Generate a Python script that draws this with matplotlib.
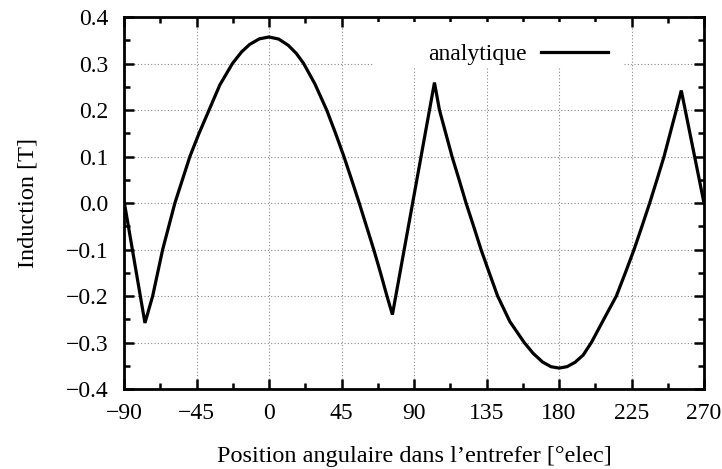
import matplotlib
matplotlib.use("Agg")
import matplotlib.pyplot as plt
from matplotlib.ticker import MultipleLocator, FuncFormatter
from matplotlib.patches import Rectangle

plt.rcParams['font.family'] = ['Liberation Serif', 'DejaVu Serif']

angle = [-90, -77, -72.2, -66, -58.4, -49.1, -43.4, -37.2, -30.5, -22.7, -17, -12, -6,
         0, 6, 12, 17, 21.5, 28.5, 35.8, 41.3, 46.5, 51.3, 56, 60.5, 65, 69.2, 73.2,
         76.6, 102.7, 105.8, 109.7, 113.6, 118, 122.3, 127, 131.6, 136.7, 141.9, 149.5,
         158.4, 164, 169.8, 175, 180, 185, 190, 195, 200.1, 207.5, 215.6, 221.2, 226.6,
         231.5, 236.3, 240.8, 245.2, 249, 252.8, 255.9, 270]
induction = [0.005, -0.258, -0.2, -0.1, 0.0, 0.1, 0.15, 0.2, 0.254, 0.3, 0.325, 0.341,
             0.353, 0.357, 0.3526, 0.339, 0.3215, 0.3, 0.256, 0.2, 0.15, 0.1, 0.05, 0.0,
             -0.05, -0.1, -0.15, -0.2, -0.24, 0.259, 0.2, 0.15, 0.1, 0.05, 0.0, -0.05,
             -0.1, -0.15, -0.2, -0.255, -0.3, -0.3235, -0.342, -0.352, -0.355, -0.352,
             -0.3425, -0.327, -0.3, -0.252, -0.2, -0.15, -0.1, -0.05, 0.0, 0.05, 0.1,
             0.15, 0.2, 0.242, 0.0]

xticks = [-90, -45, 0, 45, 90, 135, 180, 225, 270]
yticks = [-0.4, -0.3, -0.2, -0.1, 0.0, 0.1, 0.2, 0.3, 0.4]

fig = plt.figure(figsize=(7.22, 4.69), dpi=100)
ax = fig.add_axes([124/722, 1-389/469, (704-124)/722, (389-17)/469])

ax.plot(angle, induction, color='black', lw=2.3, label='analytique', zorder=3,
        solid_joinstyle='miter')

ax.set_xlim(-90, 270)
ax.set_ylim(-0.4, 0.4)
ax.set_xticks(xticks)
ax.set_yticks(yticks)
ax.xaxis.set_minor_locator(MultipleLocator(22.5))
ax.yaxis.set_minor_locator(MultipleLocator(0.05))
ax.yaxis.set_major_formatter(FuncFormatter(lambda v, p: f"{v:.1f}".replace('-', '\u2212')))
ax.xaxis.set_major_formatter(FuncFormatter(lambda v, p: f"{v:.0f}".replace('-', '\u2212')))
ax.tick_params(which='both', direction='in', top=True, right=True, labelsize=17,
               width=1.8)
ax.tick_params(axis='y', pad=11)
ax.tick_params(axis='x', pad=10)
ax.tick_params(which='major', length=7)
ax.tick_params(which='minor', length=4)
for s in ax.spines.values():
    s.set_linewidth(2)
ax.grid(True, which='major', linestyle=(0, (1, 2)), color='#888888', lw=0.8)
ax.set_axisbelow(True)

ax.set_xlabel('Position angulaire dans l\u2019entrefer [\u00b0elec]', fontsize=17.5, labelpad=16)
ax.set_ylabel('Induction [T]', fontsize=17.5, labelpad=20)

# white key box hiding the grid behind the legend
ax.add_patch(Rectangle((0.429, 0.866), 0.431, 0.12, transform=ax.transAxes,
                       facecolor='white', edgecolor='none', zorder=1))

leg = ax.legend(loc='center right', bbox_to_anchor=(0.847, 0.9), frameon=False,
                fontsize=17, markerfirst=False, handlelength=2.85, handletextpad=0.6,
                borderpad=0.3, borderaxespad=0)

fig.savefig('out.png', dpi=100)
